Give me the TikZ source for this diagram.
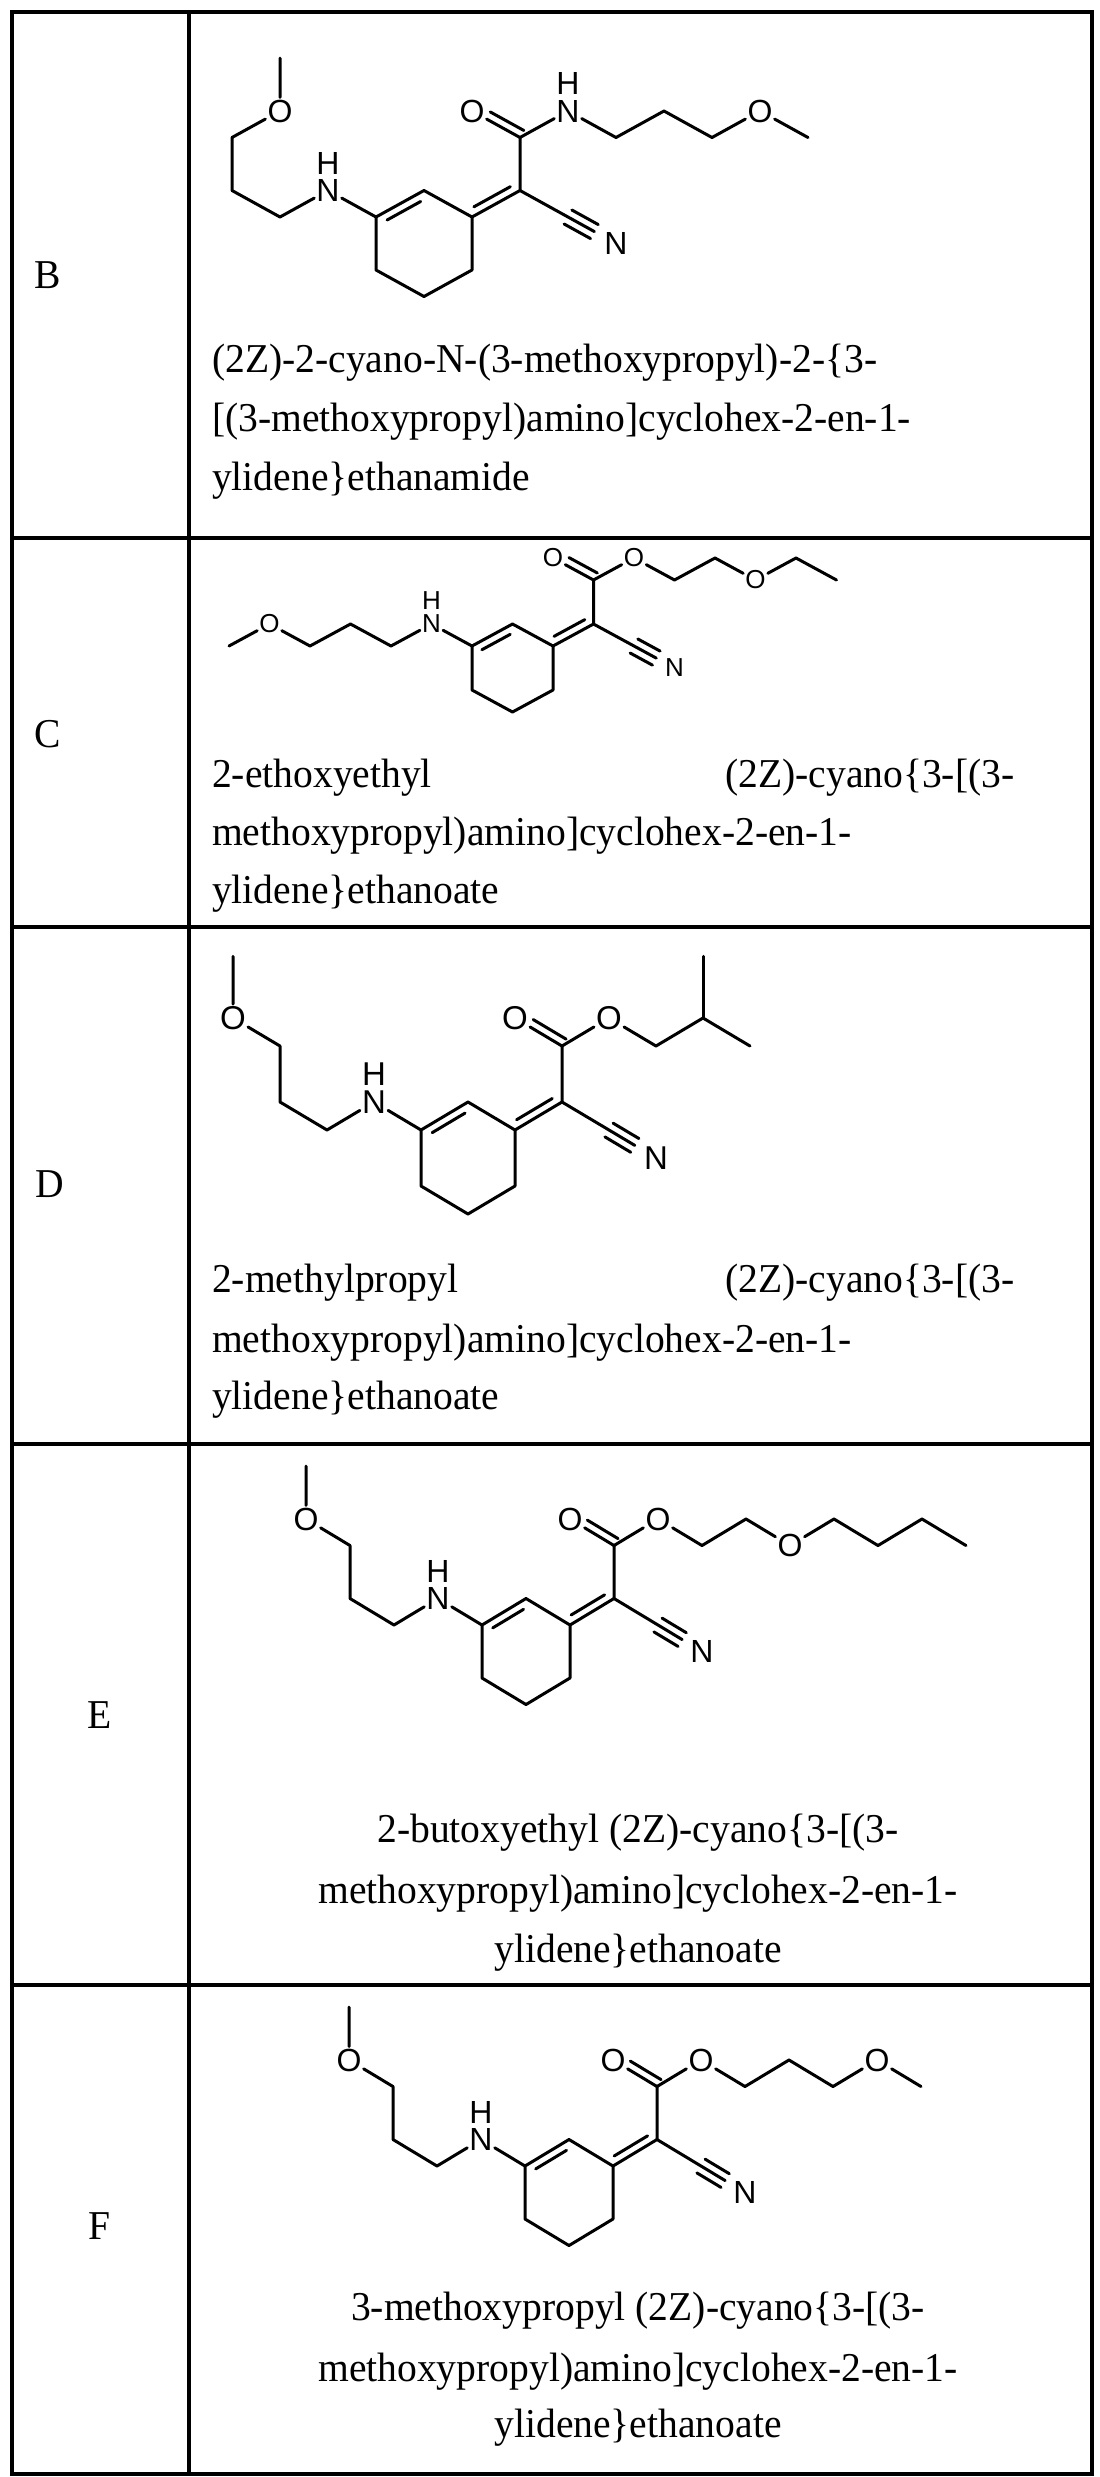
\documentclass[tikz,border=0pt]{standalone}
\usepackage{fontspec}
\setmainfont[FakeStretch=0.965]{Liberation Serif}
\newfontfamily\atomsans{Liberation Sans}
\usetikzlibrary{calc}
\newcommand{\asz}{32}
\tikzset{
  bond/.style={line width=3pt, line cap=round, line join=round},
  atom/.style={font=\atomsans\fontsize{\asz}{\asz}\selectfont, inner sep=2pt},
  txt/.style={font=\fontsize{41}{41}\selectfont, inner sep=0pt},
  grid/.style={line width=3.5pt}
}
% double bond helpers
\newcommand{\dblA}[3]{\draw[bond] ($(#1)!#3!(#2)!8pt!90:(#2)$) -- ($(#2)!#3!(#1)!8pt!-90:(#1)$);}
\newcommand{\dblB}[3]{\draw[bond] ($(#1)!#3!(#2)!8pt!-90:(#2)$) -- ($(#2)!#3!(#1)!8pt!90:(#1)$);}
\newcommand{\core}{%
  \coordinate (r1) at (0,0); \coordinate (r2) at (1,-1); \coordinate (r3) at (2,0);
  \coordinate (r4) at (2,2); \coordinate (r5) at (1,3); \coordinate (r6) at (0,2);
  \coordinate (ca) at (3,-1); \coordinate (cc) at (3,-3); \coordinate (cn) at (4,0);
  \node[atom] (nn) at (5,1) {N};
  \node[atom] (od) at (2,-4) {O};
  \node[atom] (na) at (-1,-1) {N};
  \node[atom, anchor=south, inner sep=0pt] (hn) at ([yshift=3pt]na.north) {H};
  \draw[bond] (r1)--(r2)--(r3)--(r4)--(r5)--(r6)--cycle;
  \dblB{r1}{r2}{0.15}
  \draw[bond] (r3)--(ca)--(cc);
  \dblA{r3}{ca}{0.12}
  \draw[bond] (cc)--(od);
  \draw[bond] ($(cc)!8pt!-90:(od)$) -- ($(od)!0.3!(cc)!8pt!90:(cc)$);
  \draw[bond] (ca)--(cn)--($(cn)!0.55!(nn)$);
  \draw[bond] ($(cn)!8pt!90:(nn)$) -- ($(cn)!0.55!(nn)!8pt!90:(nn)$);
  \draw[bond] ($(cn)!8pt!-90:(nn)$) -- ($(cn)!0.55!(nn)!8pt!-90:(nn)$);
  \draw[bond] (r1)--(na);
}
\begin{document}
\begin{tikzpicture}[x=1pt,y=-1pt]
\useasboundingbox (0,0) rectangle (1100,2477);
% table
\draw[grid] (12,12) rectangle (1092,2474);
\draw[grid] (189,12) -- (189,2474);
\foreach \yy in {538,927,1444,1985} \draw[grid] (12,\yy) -- (1092,\yy);
% letters
\node[txt, anchor=base] (lB) at (48,288) {B};
\node[txt, anchor=base] (lC) at (48,747) {C};
\node[txt, anchor=base] (lD) at (50,1197) {D};
\node[txt, anchor=base] (lE) at (100,1728) {E};
\node[txt, anchor=base] (lF) at (100,2239) {F};
% names
\node[txt, anchor=base west] (tB1) at (212,372) {(2Z)-2-cyano-N-(3-methoxypropyl)-2-\{3-};
\node[txt, anchor=base west] (tB2) at (212,431) {[(3-methoxypropyl)amino]cyclohex-2-en-1-};
\node[txt, anchor=base west] (tB3) at (212,490) {ylidene\}ethanamide};
\node[txt, anchor=base west] (tC1) at (212,787) {2-ethoxyethyl};
\node[txt, anchor=base west] (tC1b) at (725,787) {(2Z)-cyano\{3-[(3-};
\node[txt, anchor=base west] (tC2) at (212,845) {methoxypropyl)amino]cyclohex-2-en-1-};
\node[txt, anchor=base west] (tC3) at (212,903) {ylidene\}ethanoate};
\node[txt, anchor=base west] (tD1) at (212,1292) {2-methylpropyl};
\node[txt, anchor=base west] (tD1b) at (725,1292) {(2Z)-cyano\{3-[(3-};
\node[txt, anchor=base west] (tD2) at (212,1352) {methoxypropyl)amino]cyclohex-2-en-1-};
\node[txt, anchor=base west] (tD3) at (212,1409) {ylidene\}ethanoate};
\node[txt, anchor=base] (tE1) at (638,1842) {2-butoxyethyl (2Z)-cyano\{3-[(3-};
\node[txt, anchor=base] (tE2) at (638,1903) {methoxypropyl)amino]cyclohex-2-en-1-};
\node[txt, anchor=base] (tE3) at (638,1962) {ylidene\}ethanoate};
\node[txt, anchor=base] (tF1) at (638,2320) {3-methoxypropyl (2Z)-cyano\{3-[(3-};
\node[txt, anchor=base] (tF2) at (638,2381) {methoxypropyl)amino]cyclohex-2-en-1-};
\node[txt, anchor=base] (tF3) at (638,2437) {ylidene\}ethanoate};
% B
\begin{scope}[shift={(376,217)}, x={(48pt,0pt)}, y={(0pt,-26.5pt)}]
  \core
  \node[atom] (oe) at (4,-4) {N};
  \node[atom, anchor=south, inner sep=0pt] (he) at ([yshift=3pt]oe.north) {H};
  \node[atom] (o2) at (8,-4) {O};
  \node[atom] (ol) at (-2,-4) {O};
  \draw[bond] (cc)--(oe)--(5,-3)--(6,-4)--(7,-3)--(o2)--(9,-3);
  \draw[bond] (na)--(-2,0)--(-3,-1)--(-3,-3)--(ol)--(-2,-6);
\end{scope}
% C
\renewcommand{\asz}{26}
\begin{scope}[shift={(472,646)}, x={(40.5pt,0pt)}, y={(0pt,-22pt)}]
  \core
  \node[atom] (oe) at (4,-4) {O};
  \node[atom] (o2) at (7,-3) {O};
  \node[atom] (ol) at (-5,-1) {O};
  \draw[bond] (cc)--(oe)--(5,-3)--(6,-4)--(o2)--(8,-4)--(9,-3);
  \draw[bond] (na)--(-2,0)--(-3,-1)--(-4,0)--(ol)--(-6,0);
\end{scope}
% D
\renewcommand{\asz}{33}
\begin{scope}[shift={(421,1130)}, x={(47pt,0pt)}, y={(0pt,-28pt)}]
  \core
  \node[atom] (oe) at (4,-4) {O};
  \node[atom] (ol) at (-4,-4) {O};
  \draw[bond] (cc)--(oe)--(5,-3)--(6,-4)--(7,-3);
  \draw[bond] (6,-4)--(6,-6.2);
  \draw[bond] (na)--(-2,0)--(-3,-1)--(-3,-3)--(ol)--(-4,-6.2);
\end{scope}
% E
\renewcommand{\asz}{32}
\begin{scope}[shift={(482,1625)}, x={(44pt,0pt)}, y={(0pt,-26.5pt)}]
  \core
  \node[atom] (oe) at (4,-4) {O};
  \node[atom] (o2) at (7,-3) {O};
  \node[atom] (ol) at (-4,-4) {O};
  \draw[bond] (cc)--(oe)--(5,-3)--(6,-4)--(o2)--(8,-4)--(9,-3)--(10,-4)--(11,-3);
  \draw[bond] (na)--(-2,0)--(-3,-1)--(-3,-3)--(ol)--(-4,-6);
\end{scope}
% F
\begin{scope}[shift={(525,2166)}, x={(44pt,0pt)}, y={(0pt,-26.5pt)}]
  \core
  \node[atom] (oe) at (4,-4) {O};
  \node[atom] (o2) at (8,-4) {O};
  \node[atom] (ol) at (-4,-4) {O};
  \draw[bond] (cc)--(oe)--(5,-3)--(6,-4)--(7,-3)--(o2)--(9,-3);
  \draw[bond] (na)--(-2,0)--(-3,-1)--(-3,-3)--(ol)--(-4,-6);
\end{scope}
\end{tikzpicture}
\end{document}
